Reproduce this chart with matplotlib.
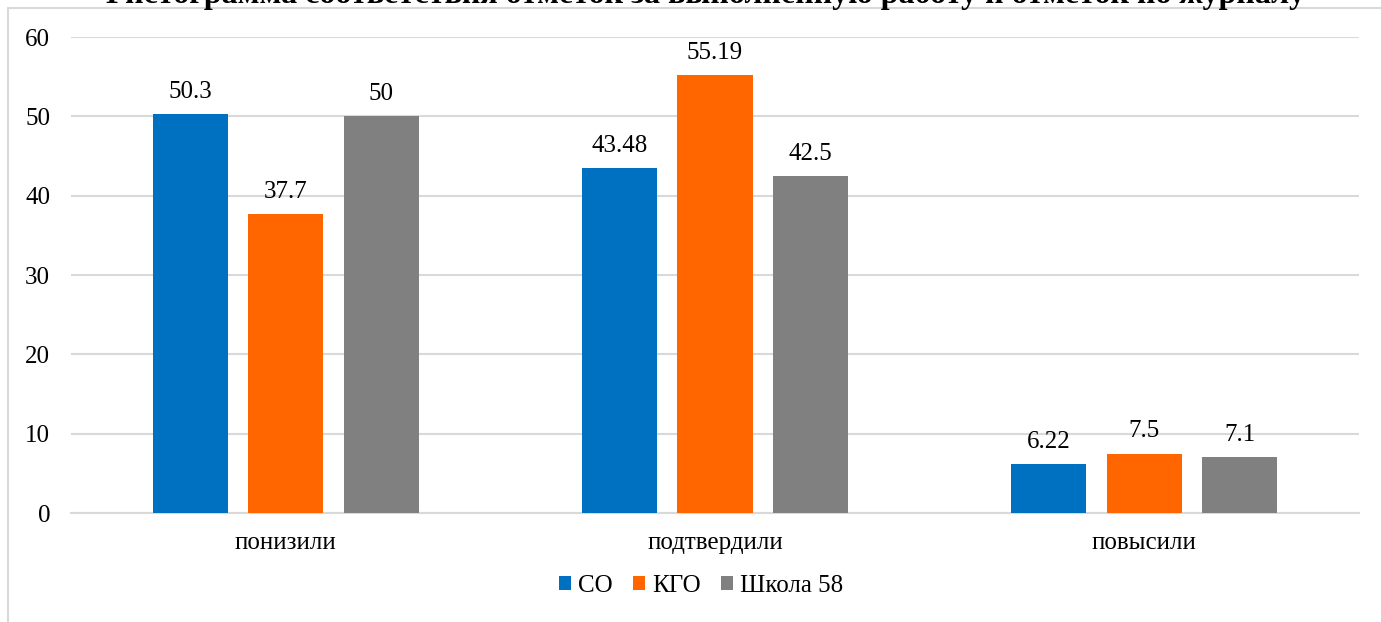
import matplotlib.pyplot as plt
import numpy as np
from matplotlib.patches import Rectangle

plt.rcParams['font.family'] = ['Liberation Serif', 'DejaVu Serif']

categories = ['понизили', 'подтвердили', 'повысили']
series_names = ['СО', 'КГО', 'Школа 58']
so_vals = [50.3, 43.48, 6.22]
kgo_vals = [37.7, 55.19, 7.5]
school_vals = [50, 42.5, 7.1]
value_labels = [['50.3', '43.48', '6.22'], ['37.7', '55.19', '7.5'], ['50', '42.5', '7.1']]
colors = ['#0070C0', '#FF6600', '#808080']
title = 'Гистограмма соответствия отметок за выполненную работу и отметок по журналу'

fig = plt.figure(figsize=(13.81, 6.22), dpi=100)
# plot area in pixels: x 71..1359, y 37..513
ax = fig.add_axes([71 / 1381, 1 - 513 / 622, (1359 - 71) / 1381, (513 - 37) / 622])

fs = 18
x = np.arange(len(categories))
width = 0.175
step = 0.2225
for i, vals in enumerate([so_vals, kgo_vals, school_vals]):
    bars = ax.bar(x + (i - 1) * step, vals, width, color=colors[i], label=series_names[i], zorder=3)
    for b, lab in zip(bars, value_labels[i]):
        ax.annotate(lab, (b.get_x() + b.get_width() / 2, b.get_height()),
                    xytext=(0, 8), textcoords='offset points',
                    ha='center', va='bottom', fontsize=fs)

ax.set_xlim(-0.5, 2.5)
ax.set_ylim(0, 60)
ax.set_yticks(range(0, 61, 10))
ax.set_xticks(x)
ax.set_xticklabels(categories, fontsize=fs)
ax.tick_params(axis='y', labelsize=fs, length=0, pad=15)
ax.tick_params(axis='x', length=0, pad=14)
ax.grid(axis='y', color='#D9D9D9', linewidth=1.5, zorder=0)
for s in ['top', 'right', 'left']:
    ax.spines[s].set_visible(False)
ax.spines['bottom'].set_color('#D9D9D9')
ax.spines['bottom'].set_linewidth(1.5)

leg = fig.legend(loc='center', bbox_to_anchor=(701 / 1381, 1 - 586 / 622), ncol=3,
                 frameon=False, fontsize=fs, handlelength=0.5, handleheight=0.5,
                 handletextpad=0.28, columnspacing=0.8)

# chart area border
fig.patches.append(Rectangle((8 / 1381, -0.1), 1.2, 1 - 8 / 622 + 0.1, transform=fig.transFigure,
                             fill=False, edgecolor='#D9D9D9', linewidth=1.5))

fig.text(706 / 1381, 1 - 3 / 622, title, ha='center', va='baseline',
         fontsize=23, fontweight='bold')

fig.savefig('out.png', dpi=100)
